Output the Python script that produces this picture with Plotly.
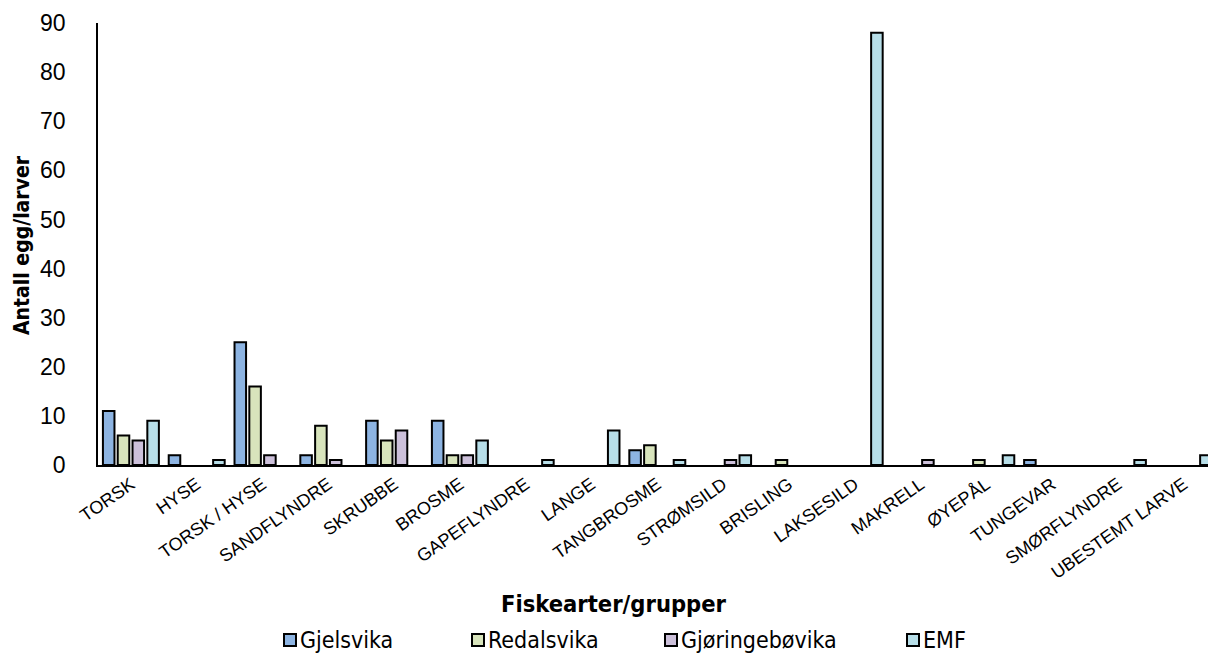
import plotly.graph_objects as go

# Fish egg / larvae counts per species group and sampling site
categories = [
    "TORSK", "HYSE", "TORSK / HYSE", "SANDFLYNDRE", "SKRUBBE", "BROSME",
    "GAPEFLYNDRE", "LANGE", "TANGBROSME", "STRØMSILD", "BRISLING",
    "LAKSESILD", "MAKRELL", "ØYEPÅL", "TUNGEVAR", "SMØRFLYNDRE",
    "UBESTEMT LARVE",
]
gjelsvika = [11, 2, 25, 2, 9, 9, 0, 0, 3, 0, 0, 0, 0, 0, 1, 0, 0]
redalsvika = [6, 0, 16, 8, 5, 2, 0, 0, 4, 0, 1, 0, 0, 1, 0, 0, 0]
gjoringebovika = [5, 0, 2, 1, 7, 2, 0, 0, 0, 1, 0, 0, 1, 0, 0, 0, 0]
emf = [9, 1, 0, 0, 0, 5, 1, 7, 1, 2, 0, 88, 0, 2, 0, 1, 2]

series_names = ["Gjelsvika", "Redalsvika", "Gjøringebøvika", "EMF"]
series_values = [gjelsvika, redalsvika, gjoringebovika, emf]
series_colors = ["#8DB4E2", "#D8E4BC", "#CCC0DA", "#B7DEE8"]

y_ticks = [0, 10, 20, 30, 40, 50, 60, 70, 80, 90]

# Page geometry (pixels)
W, H = 1208, 656
ML, MR, MT, MB = 98, 0, 23, 191
PW, PH = W - ML - MR, H - MT - MB


def px_x(px):
    return (px - ML) / PW


def px_y(py):
    return (MT + PH - py) / PH


TICK_FONT = "Liberation Sans, Arial, sans-serif"
TITLE_FONT = "DejaVu Sans Condensed, DejaVu Sans, sans-serif"

fig = go.Figure()
for name, vals, col in zip(series_names, series_values, series_colors):
    # empty counts get no bar at all (no outline on the baseline)
    shown = [v if v else None for v in vals]
    fig.add_trace(go.Bar(
        x=categories, y=shown, name=name,
        marker=dict(color=col, line=dict(color="black", width=2)),
        showlegend=False,
    ))

# Category spacing so the last group runs up to the right page edge
slot_px = 65.8
x_hi = -0.5 + PW / slot_px

fig.update_layout(
    width=W, height=H,
    margin=dict(l=ML, r=MR, t=MT, b=MB, pad=0),
    paper_bgcolor="white", plot_bgcolor="white",
    barmode="group", bargap=0.10, bargroupgap=0.22,
    xaxis=dict(
        type="category", range=[-0.5, x_hi],
        showline=True, linecolor="black", linewidth=2,
        ticks="", showgrid=False, zeroline=False,
        tickangle=-35, ticklabelstandoff=0,
        tickfont=dict(family=TICK_FONT, size=18, color="black"),
    ),
    yaxis=dict(
        range=[0, 90], tickvals=y_ticks,
        showline=True, linecolor="black", linewidth=1.5,
        ticks="", showgrid=False, zeroline=False,
        ticklabelstandoff=26,
        tickfont=dict(family=TICK_FONT, size=23, color="black"),
    ),
)

annotations = [
    dict(text="<b>Antall egg/larver</b>", textangle=-90,
         x=px_x(22), y=px_y(245), xref="paper", yref="paper",
         xanchor="center", yanchor="middle", showarrow=False,
         font=dict(family=TITLE_FONT, size=21, color="black")),
    dict(text="<b>Fiskearter/grupper</b>",
         x=px_x(614), y=px_y(604), xref="paper", yref="paper",
         xanchor="center", yanchor="middle", showarrow=False,
         font=dict(family=TITLE_FONT, size=23.5, color="black")),
]

# Legend row drawn as swatches + labels
legend_left = [284, 472, 665, 907]
legend_cy = 640
sw = 12
shapes = []
for name, col, lx in zip(series_names, series_colors, legend_left):
    shapes.append(dict(
        type="rect", xref="paper", yref="paper",
        x0=px_x(lx), x1=px_x(lx + sw),
        y0=px_y(legend_cy + sw / 2), y1=px_y(legend_cy - sw / 2),
        fillcolor=col, line=dict(color="black", width=2),
    ))
    annotations.append(dict(
        text=name, x=px_x(lx + sw + 2), y=px_y(legend_cy),
        xref="paper", yref="paper", xanchor="left", yanchor="middle",
        showarrow=False,
        font=dict(family=TITLE_FONT, size=23, color="black"),
    ))

fig.update_layout(annotations=annotations, shapes=shapes)

fig.write_html("out.html")
